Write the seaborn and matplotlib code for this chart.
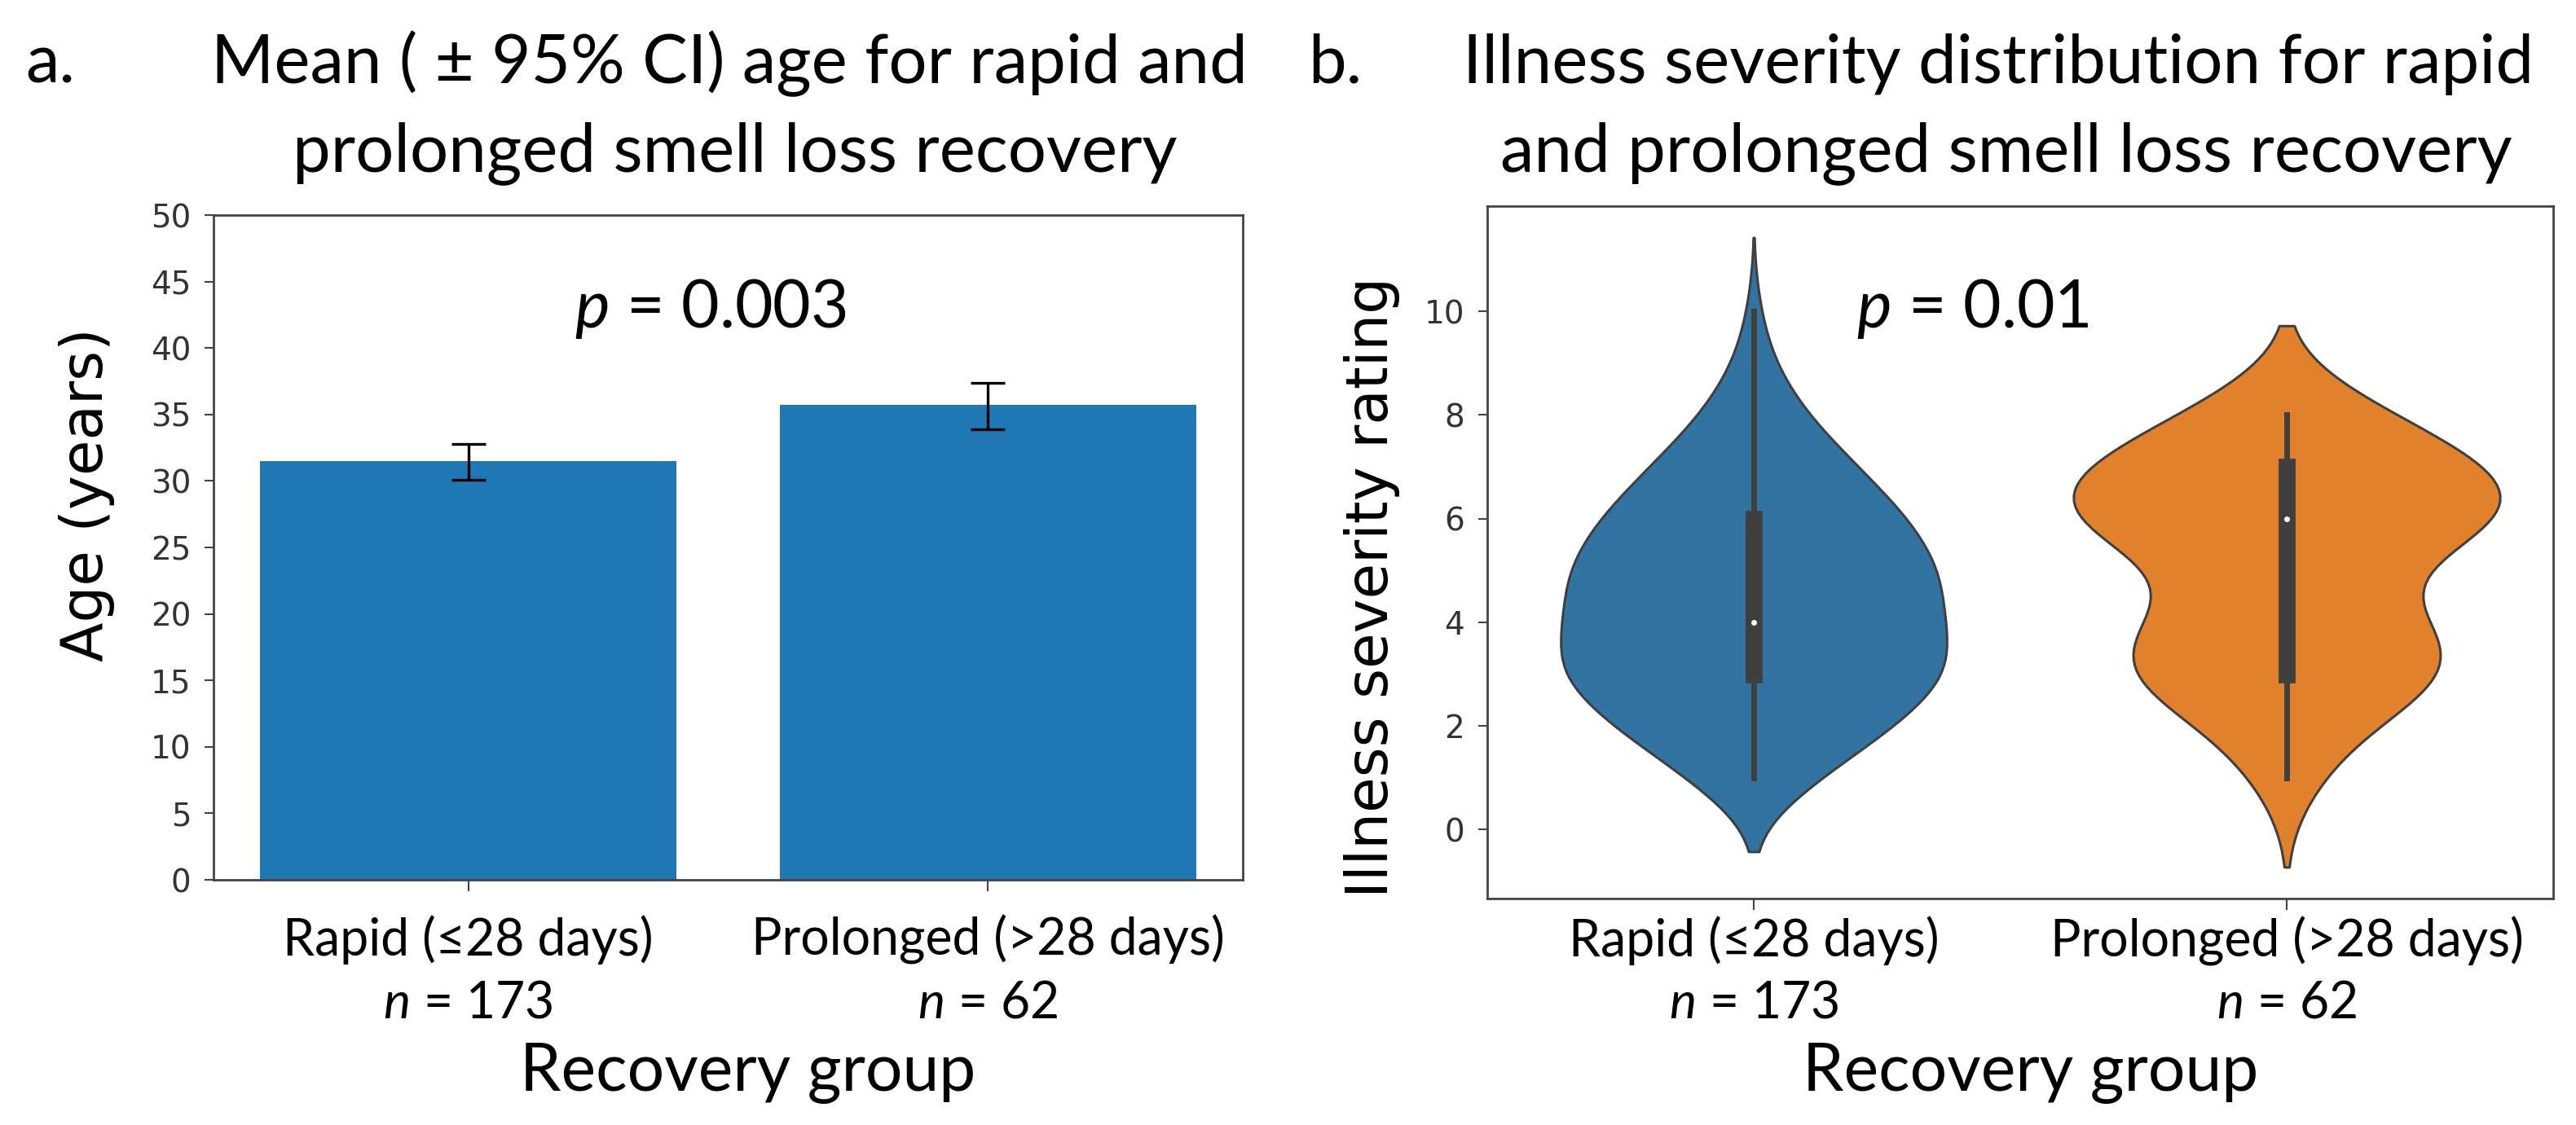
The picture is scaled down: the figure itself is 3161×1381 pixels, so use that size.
import numpy as np
import pandas as pd
import matplotlib
matplotlib.use("Agg")
import matplotlib.pyplot as plt
import matplotlib.transforms as mtransforms
from matplotlib import font_manager as fm
import seaborn as sns

# ---------------- data ----------------
groups = ["Rapid (≤28 days)", "Prolonged (>28 days)"]
n_labels = ["173", "62"]

age_mean = [31.5, 35.7]
age_ci_low = [30.1, 33.9]
age_ci_high = [32.8, 37.4]

ratings = [1, 2, 3, 4, 5, 6, 7, 8, 9, 10]
rapid_counts = [10, 22, 31, 29, 29, 24, 16, 8, 3, 1]       # n = 173
prolonged_counts = [2, 4, 11, 8, 4, 15, 12, 6, 0, 0]       # n = 62

p_age = "0.003"
p_severity = "0.01"

# ---------------- fonts ----------------
names = {f.name for f in fm.fontManager.ttflist}
main_font = "Lato" if "Lato" in names else "DejaVu Sans"
tick_font = "Liberation Sans Narrow" if "Liberation Sans Narrow" in names else "DejaVu Sans"
tick_size = 30 if tick_font == "Liberation Sans Narrow" else 28

plt.rcParams["font.family"] = [main_font, "DejaVu Sans"]
plt.rcParams["mathtext.fontset"] = "custom"
plt.rcParams["mathtext.it"] = f"{main_font}:italic"
plt.rcParams["mathtext.rm"] = main_font

W, H = 3161, 1381
fig = plt.figure(figsize=(W / 100, H / 100), dpi=100)

def ax_rect(l, t, r, b):
    return [l / W, 1 - b / H, (r - l) / W, (b - t) / H]

ax1 = fig.add_axes(ax_rect(262, 264, 1525, 1080))
ax2 = fig.add_axes(ax_rect(1825, 253, 3133, 1103))

spine_col = "#444444"

# ---------------- panel a: bar chart ----------------
sns.barplot(x=groups, y=age_mean, color="#1f77b4", saturation=1, width=0.8,
            errorbar=None, ax=ax1)
yerr = np.array([np.array(age_mean) - np.array(age_ci_low),
                 np.array(age_ci_high) - np.array(age_mean)])
ax1.errorbar(x=np.arange(len(groups)), y=age_mean, yerr=yerr, fmt="none",
             ecolor="black", elinewidth=2.4, capsize=15, capthick=2.4, zorder=5)
ax1.set_ylim(0, 50)
ax1.set_yticks(np.arange(0, 51, 5))

# ---------------- panel b: violin ----------------
df = pd.DataFrame({
    "group": [groups[0]] * sum(rapid_counts) + [groups[1]] * sum(prolonged_counts),
    "rating": np.concatenate([np.repeat(ratings, rapid_counts),
                              np.repeat(ratings, prolonged_counts)]),
})
sns.violinplot(data=df, x="group", y="rating", hue="group",
               palette=["#1f77b4", "#ff7f0e"], saturation=0.75,
               linecolor="#3f3f3f", linewidth=2.2, inner="box",
               density_norm="area", common_norm=True,
               inner_kws=dict(box_width=15, whis_width=5, marker="o",
                              markersize=5, markeredgewidth=0),
               legend=False, ax=ax2)
ax2.set_yticks(np.arange(0, 11, 2))

# ---------------- common styling ----------------
for ax, pad_x in ((ax1, 21), (ax2, 5.5)):
    for s in ax.spines.values():
        s.set_visible(True)
        s.set_color(spine_col)
        s.set_linewidth(2)
    ax.tick_params(axis="y", length=8, width=1.5, color=spine_col, pad=12,
                   labelsize=tick_size, labelcolor="#333333")
    ax.tick_params(axis="x", length=10, width=1.5, color=spine_col, pad=pad_x,
                   labelsize=45, labelcolor="black")
    for lab in ax.get_yticklabels():
        lab.set_fontfamily(tick_font)
    ax.set_xticks(range(len(groups)))
    ax.set_xticklabels(groups)
    ax.set_xlabel("Recovery group", fontsize=58)
    ax.grid(False)
    ax.set_facecolor("white")

ax1.set_ylabel("Age (years)", fontsize=51, family="DejaVu Sans")
ax2.set_ylabel("Illness severity rating", fontsize=51, family="DejaVu Sans")
ax1.yaxis.set_label_coords(-0.096, 0.58)
ax2.yaxis.set_label_coords(-0.082, 0.45)
ax1.xaxis.set_label_coords(0.519, -0.245)
ax2.xaxis.set_label_coords(0.51, -0.208)

# n = ... lines under the tick labels
for ax in (ax1, ax2):
    tr = mtransforms.blended_transform_factory(ax.transData, fig.transFigure)
    for i, nl in enumerate(n_labels):
        ax.text(i, 1 - 1250 / H, f"$n$ = {nl}", transform=tr, ha="center",
                va="baseline", fontsize=45)

# p-values
ax1.text(0.351, 0.831, f"$p$ = {p_age}", transform=ax1.transAxes, fontsize=58,
         ha="left", va="baseline")
ax2.text(0.346, 0.825, f"$p$ = {p_severity}", transform=ax2.transAxes, fontsize=58,
         ha="left", va="baseline")

# titles and panel letters
fig.text(31 / W, 1 - 102 / H, "a.", fontsize=60, va="baseline", ha="left")
fig.text(895 / W, 1 - 102 / H, "Mean ( ± 95% CI) age for rapid and", fontsize=60,
         va="baseline", ha="center")
fig.text(902 / W, 1 - 210 / H, "prolonged smell loss recovery", fontsize=60,
         va="baseline", ha="center")
fig.text(1605 / W, 1 - 102 / H, "b.", fontsize=60, va="baseline", ha="left")
fig.text(2452 / W, 1 - 102 / H, "Illness severity distribution for rapid", fontsize=60,
         va="baseline", ha="center")
fig.text(2462 / W, 1 - 210 / H, "and prolonged smell loss recovery", fontsize=60,
         va="baseline", ha="center")

fig.savefig("out.png", dpi=100, facecolor="white")
